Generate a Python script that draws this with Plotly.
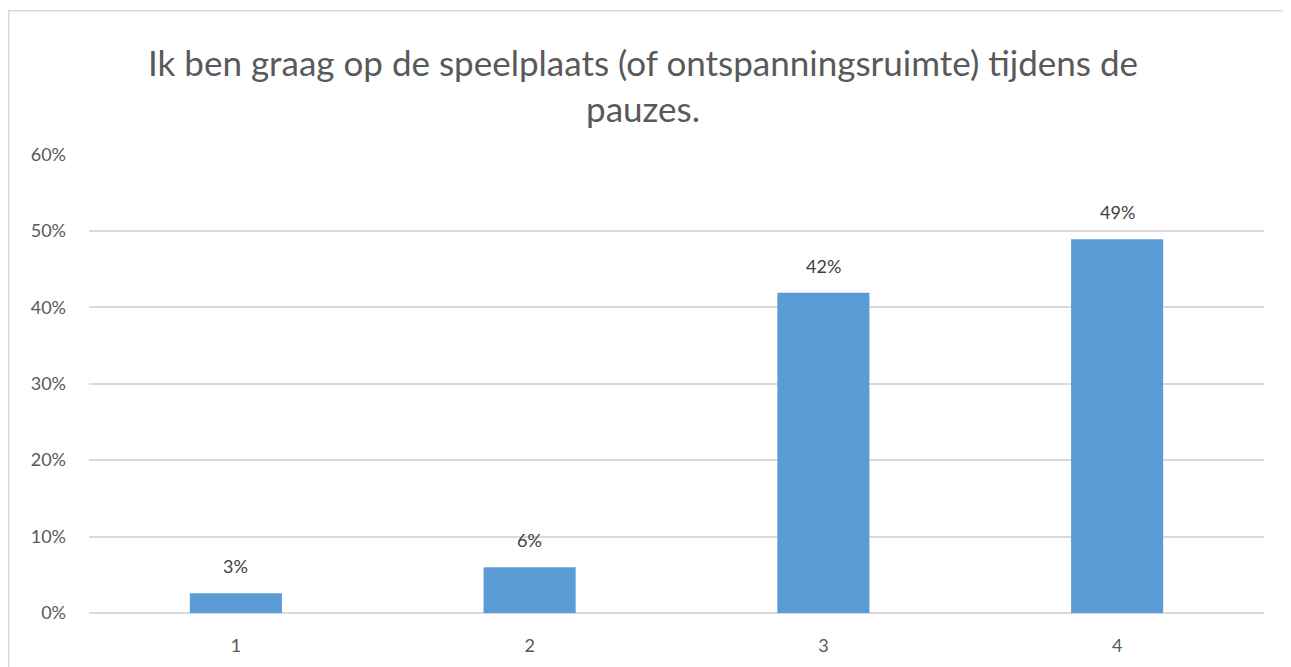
import plotly.graph_objects as go

categories = ["1", "2", "3", "4"]
values = [2.6, 6.0, 41.9, 48.9]
labels = ["3%", "6%", "42%", "49%"]
y_ticks = [0, 10, 20, 30, 40, 50, 60]
y_tick_labels = ["0%", "10%", "20%", "30%", "40%", "50%", "60%"]
title_text = "Ik ben graag op de speelplaats (of ontspanningsruimte) tijdens de<br>pauzes."

W, H = 1291, 667
L, R, T, B = 81, 35, 146, 62
pw, ph = W - L - R, H - T - B

fig = go.Figure(go.Bar(
    x=categories, y=values,
    marker=dict(color="#5b9bd5", line=dict(width=0)),
    width=0.3135, hoverinfo="skip",
))

for i, (v, t) in enumerate(zip(values, labels)):
    fig.add_annotation(x=i, y=v, text=t, showarrow=False, yanchor="bottom",
                       yshift=14, font=dict(family="Lato", size=18, color="#404040"))

fig.update_layout(
    width=W, height=H,
    margin=dict(l=L, r=R, t=T, b=B),
    paper_bgcolor="white", plot_bgcolor="white",
    showlegend=False,
    title=dict(text=title_text, x=635 / W, xanchor="center", xref="container",
               y=1 - 68 / H, yanchor="top",
               font=dict(family="Lato", size=35, color="#595959")),
    xaxis=dict(type="category", range=[-0.5, 3.5],
               showgrid=False, showline=False, ticks="",
               tickfont=dict(family="Lato", size=18, color="#595959"),
               ticklabelstandoff=20),
    yaxis=dict(range=[0, 60.05], tickvals=y_ticks, ticktext=y_tick_labels,
               showgrid=True, gridcolor="#d9d9d9", gridwidth=1.5,
               zeroline=True, zerolinecolor="#d9d9d9", zerolinewidth=1.5,
               showline=False, ticks="",
               tickfont=dict(family="Lato", size=18, color="#595959"),
               ticklabelstandoff=22),
    font=dict(family="Lato"),
)

fig.add_shape(type="rect", xref="paper", yref="paper",
              x0=(0.75 - L) / pw, x1=(W + 50 - L) / pw,
              y0=-0.3, y1=1 + (T - 2.75) / ph,
              line=dict(color="#d9d9d9", width=1.5), layer="below")

fig.write_html("out.html")
